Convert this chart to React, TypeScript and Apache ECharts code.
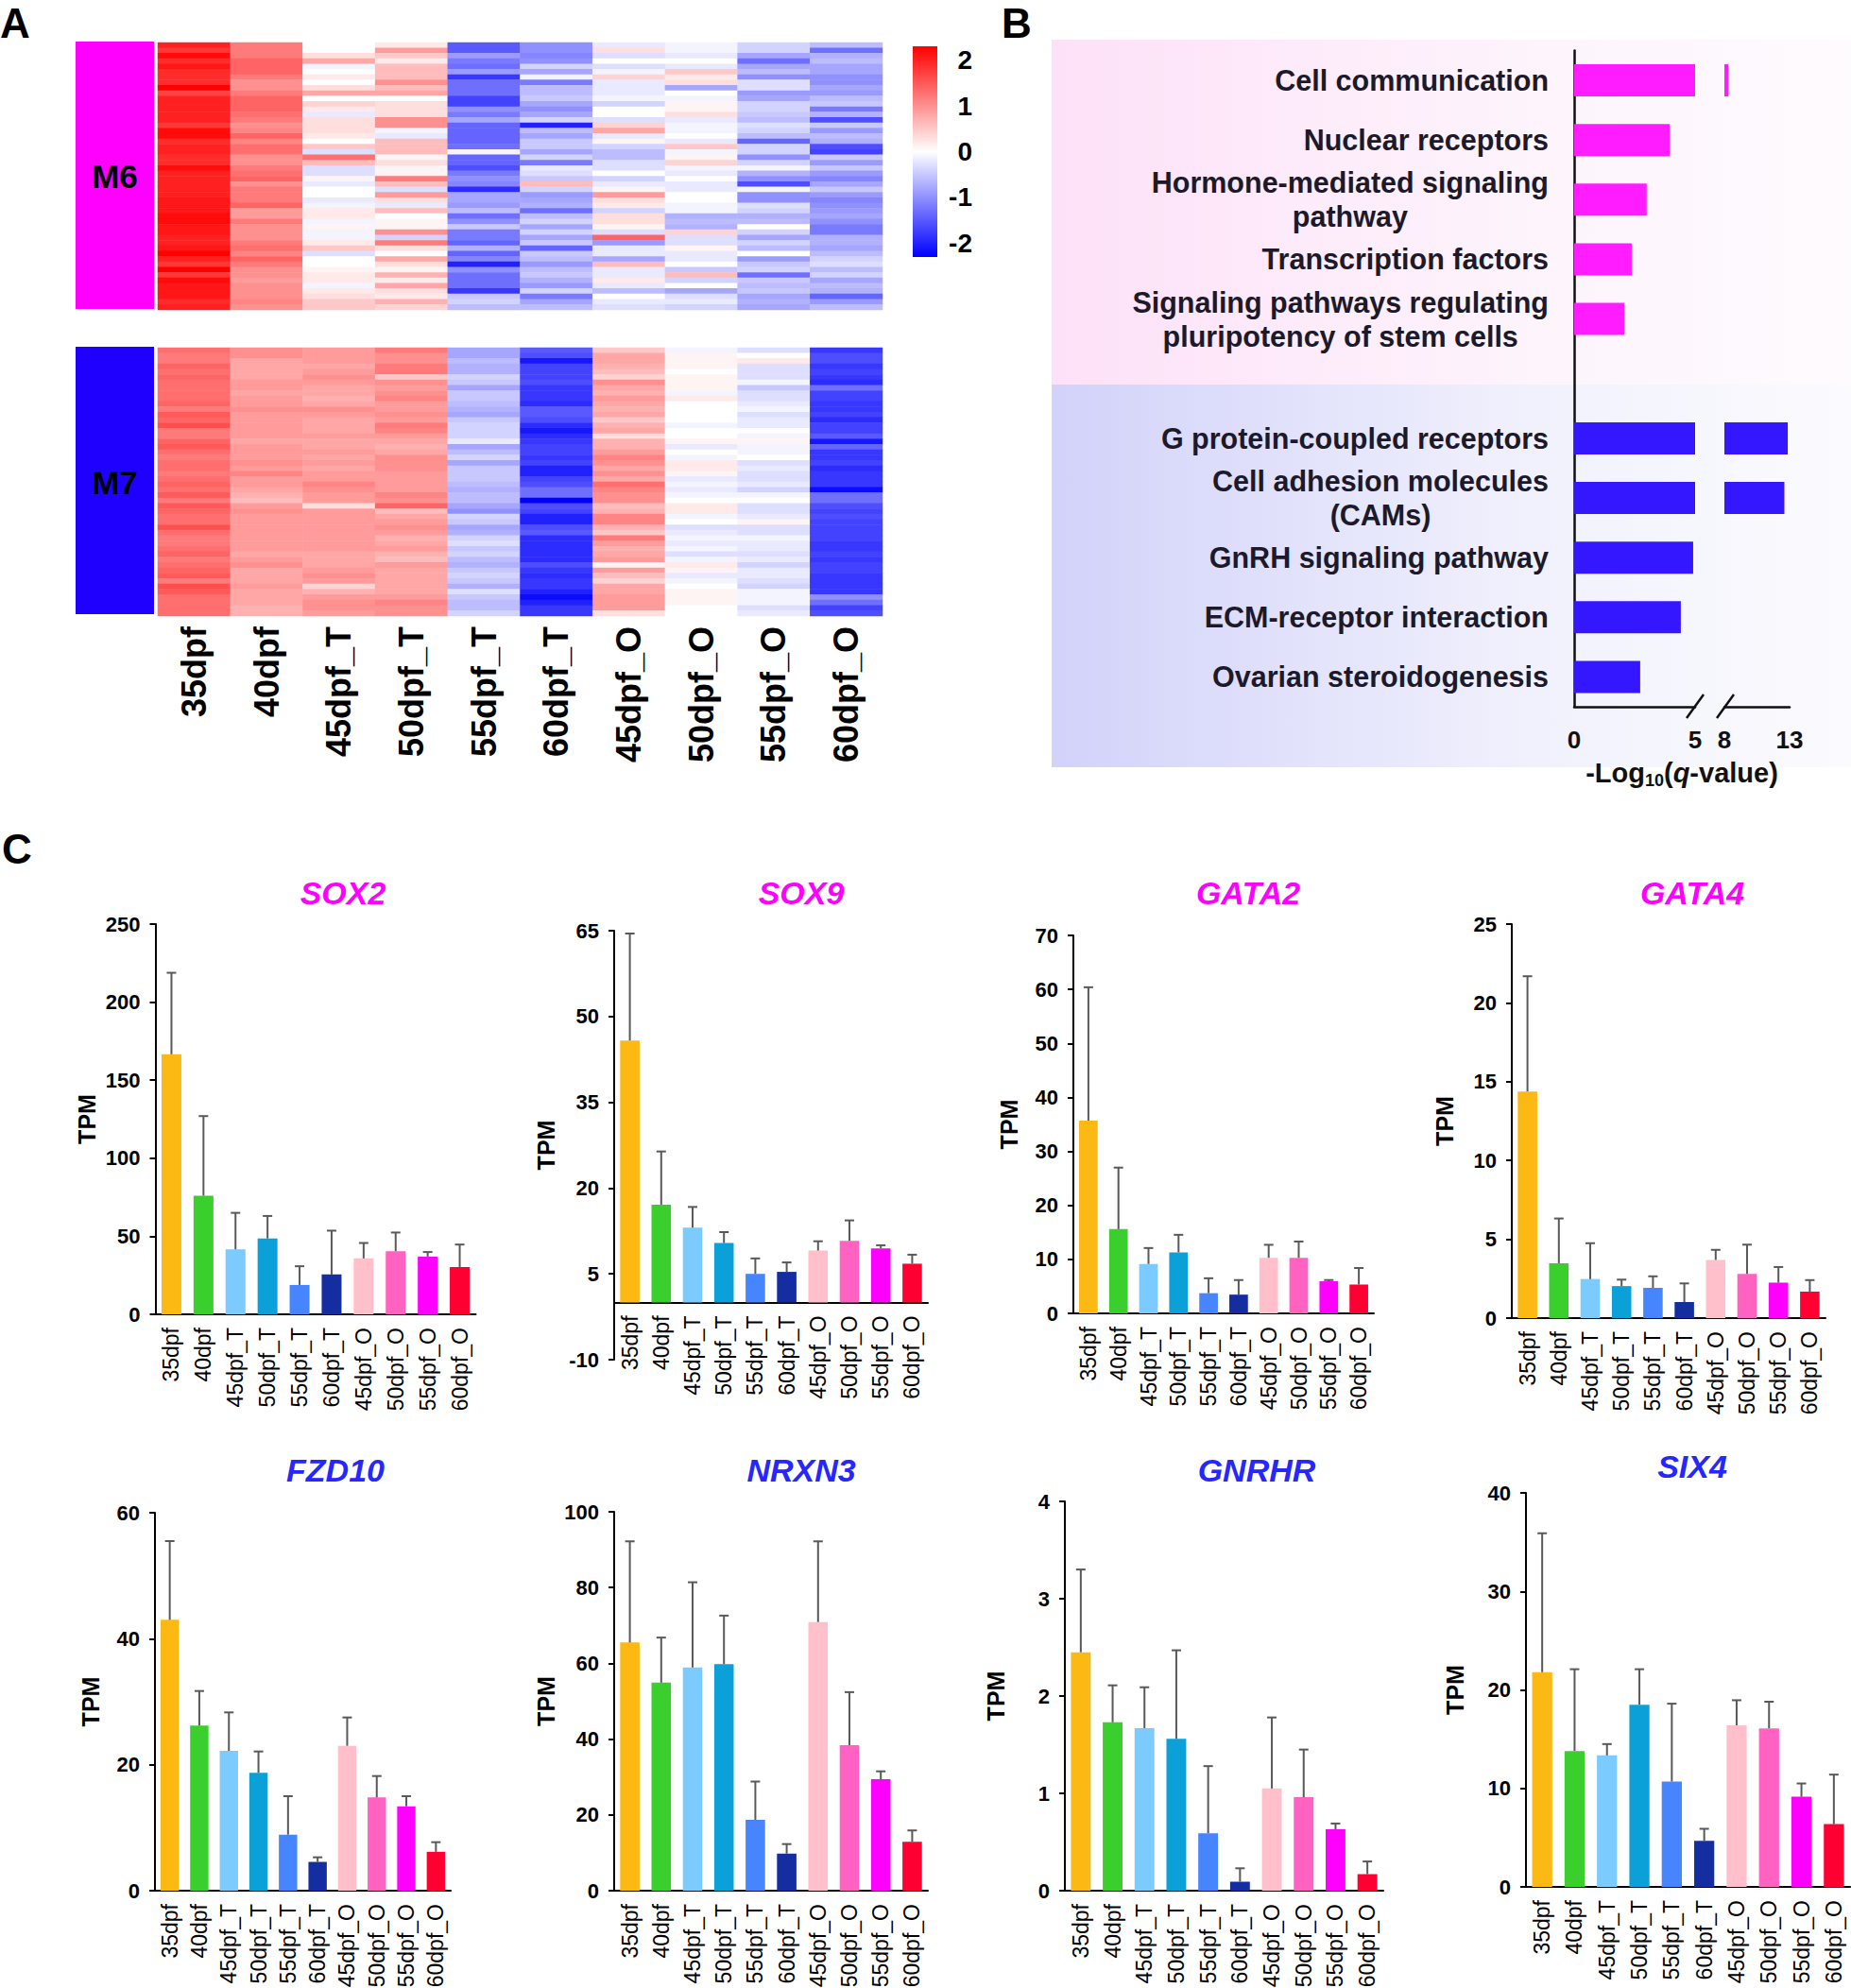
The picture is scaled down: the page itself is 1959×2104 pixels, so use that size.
import React, { useEffect, useRef } from 'react';
import * as echarts from 'echarts';

const W = 1959;
const H = 2104;
const FONT = "'Liberation Sans', Arial, Helvetica, sans-serif";

// ---------------- Panel A data ----------------
const heatCols = ['35dpf', '40dpf', '45dpf_T', '50dpf_T', '55dpf_T', '60dpf_T', '45dpf_O', '50dpf_O', '55dpf_O', '60dpf_O'];
const colorbarTicks = [2, 1, 0, -1, -2];
const heatMin = -2.3;
const heatMax = 2.3;

const m6Rows = [
  [2.0, 1.2, 0.0, 0.2, -1.5, -1.0, -0.2, -0.1, -0.4, -0.6],
  [1.8, 1.2, 0.0, 0.9, -1.5, -1.0, 0.3, -0.1, -0.4, -1.3],
  [2.2, 1.2, 0.3, 0.5, -0.9, -1.1, -0.3, -0.2, -0.8, -0.7],
  [1.9, 1.4, 0.8, 0.2, -1.2, -1.0, 0.0, 0.0, -1.3, -0.6],
  [2.1, 1.4, -0.1, 0.6, -1.3, -0.4, -0.3, -0.2, -0.8, -0.8],
  [1.9, 1.4, 0.0, 0.6, -0.9, -0.8, -0.1, 0.5, -0.6, -0.8],
  [1.9, 1.2, 0.2, 0.6, -1.8, -0.1, 0.4, 0.2, -1.0, -1.0],
  [1.9, 1.0, 0.0, 1.0, -1.3, -1.2, -0.2, 0.3, -0.3, -1.0],
  [2.3, 1.0, 0.3, 0.6, -1.3, -0.6, -0.2, -0.8, -0.3, -0.8],
  [1.7, 1.2, 0.8, 0.8, -1.3, -0.6, -0.2, 0.0, -0.9, -0.9],
  [2.0, 1.4, 0.0, 0.0, -1.7, -0.5, -0.1, -0.1, -0.8, -0.6],
  [2.0, 1.4, 0.4, 0.3, -1.7, -0.8, -0.4, 0.1, -0.4, -0.5],
  [2.0, 1.4, 0.2, 0.3, -1.0, -1.0, 0.0, 0.1, -0.4, -1.2],
  [2.0, 1.3, -0.2, 0.3, -1.2, -0.8, 0.0, 0.3, -0.5, -0.7],
  [2.0, 1.2, 0.3, 1.0, -0.8, -0.4, -0.3, -0.2, -0.6, -1.6],
  [1.8, 1.0, 0.3, 1.0, -1.4, -2.0, 0.4, -0.1, -0.3, -0.5],
  [2.2, 1.1, 0.3, -0.1, -1.4, -0.6, 0.8, -0.1, -0.4, -0.9],
  [2.2, 1.4, 0.2, -0.2, -1.4, -0.8, -0.2, 0.0, -0.6, -0.6],
  [1.9, 1.1, 0.0, 0.6, -1.4, -0.5, 0.1, -0.2, -1.4, -0.7],
  [2.0, 1.3, 0.5, 0.6, -1.3, -0.5, -0.4, 0.5, -0.4, -1.6],
  [2.0, 1.3, -0.3, 0.6, -0.1, -0.8, -0.6, -0.1, -0.4, -1.7],
  [1.9, 1.0, 1.3, 0.1, -1.4, -0.4, -0.6, 0.1, -1.0, -0.5],
  [1.9, 1.0, 0.6, 0.3, -1.4, -1.2, -0.3, 0.4, -0.4, -0.9],
  [2.2, 1.2, -0.3, 0.1, -1.6, -0.2, -0.3, -0.1, -0.1, -0.5],
  [2.0, 1.3, -0.3, 0.1, -1.2, -0.3, 0.0, -0.2, -0.7, -0.9],
  [2.0, 1.4, 0.1, 1.2, -1.0, -0.5, -0.4, 0.0, -1.0, -1.1],
  [2.0, 1.0, -0.2, 0.6, -1.1, 0.6, -0.2, -0.2, -1.6, -0.8],
  [2.0, 1.2, 0.0, -0.3, -1.9, -0.4, 0.1, -0.2, -0.1, -0.5],
  [2.0, 1.2, 0.0, 0.9, -0.8, -0.9, 0.9, 0.0, -1.0, -0.9],
  [2.1, 1.2, -0.2, 0.3, -0.8, -0.8, 0.3, 0.0, -1.0, -1.1],
  [2.1, 1.4, -0.1, -0.2, -0.9, -0.7, 0.2, -0.1, -0.3, -1.0],
  [2.1, 0.9, 0.2, 0.6, -0.6, -1.3, -0.4, -0.1, -0.4, -0.9],
  [2.2, 0.9, 0.2, 0.0, -1.3, -0.6, 0.3, -0.7, -0.7, -0.8],
  [2.2, 1.2, -0.1, 0.1, -1.0, -0.4, 0.3, -0.6, -0.6, -1.0],
  [2.1, 1.0, 0.1, 0.1, -0.5, -0.8, 0.1, -0.7, 0.0, -1.2],
  [2.1, 1.0, -0.1, 1.0, -1.2, -0.4, -0.3, 0.4, -0.4, -1.2],
  [2.0, 1.0, -0.1, -0.4, -1.2, -0.8, 1.4, -0.3, -0.8, -0.7],
  [2.0, 1.2, 0.2, 1.2, -1.4, -0.5, -0.9, -0.3, -0.4, -0.7],
  [2.1, 1.3, 0.5, 0.3, -0.7, -1.4, -0.2, 0.1, -0.6, -0.8],
  [2.3, 1.1, -0.3, 0.0, -1.4, -0.5, -0.2, -0.2, 0.0, -0.6],
  [2.0, 1.4, 0.0, 0.8, -1.1, -0.6, -0.8, -0.2, -0.9, -0.4],
  [1.8, 1.2, 0.0, 0.3, -2.0, -0.9, 0.6, 0.0, -0.5, -0.3],
  [2.4, 1.0, 0.1, 0.1, -1.0, -0.6, -0.2, -0.5, -0.4, -0.6],
  [1.8, 1.0, 0.2, 0.7, -1.3, -0.5, -0.2, 0.6, -1.3, -0.4],
  [2.2, 0.9, 0.2, 0.2, -1.3, -0.7, 0.2, -0.4, -0.5, -0.8],
  [2.1, 1.0, -0.1, 0.8, -1.3, -0.9, -0.2, 0.0, -0.6, -0.6],
  [2.1, 1.0, 0.2, 0.3, -1.8, -0.4, -0.6, -0.8, -0.5, -0.7],
  [2.1, 1.0, 0.3, 0.2, -0.5, -1.2, 0.0, -0.3, -0.8, -1.4],
  [1.9, 1.1, 0.5, 0.7, -0.4, -0.8, -0.2, -0.2, -0.7, -0.9],
  [2.0, 1.0, 0.5, 0.4, -0.6, -0.6, -0.3, -0.4, -0.8, -0.6],
];

const m7Rows = [
  [1.3, 1.0, 0.9, 1.2, -0.8, -1.5, 0.5, -0.1, -0.3, -1.8],
  [1.2, 1.0, 0.9, 1.0, -0.8, -1.6, 0.8, 0.1, 0.0, -1.6],
  [1.2, 0.8, 0.9, 1.0, -0.6, -2.1, 0.8, 0.1, 0.2, -1.6],
  [1.4, 0.8, 0.8, 1.2, -0.7, -1.7, 0.7, 0.1, -0.3, -1.8],
  [1.3, 0.8, 0.9, 1.2, -0.7, -1.7, 0.6, 0.0, -0.3, -1.7],
  [1.4, 0.8, 1.0, 0.5, -0.4, -1.7, 0.4, 0.1, -0.3, -1.8],
  [1.3, 0.9, 0.9, 1.0, -0.5, -1.6, 1.0, 0.1, -0.1, -1.9],
  [1.3, 0.9, 0.8, 0.9, -0.8, -1.8, 0.8, 0.1, -0.5, -1.3],
  [1.3, 0.8, 0.8, 1.0, -0.5, -1.8, 0.7, -0.1, -0.3, -1.7],
  [1.3, 0.9, 0.7, 1.1, -0.5, -1.8, 0.9, 0.2, -0.3, -1.7],
  [1.4, 0.9, 0.8, 0.9, -0.6, -1.9, 0.8, 0.0, -0.2, -1.8],
  [1.2, 1.0, 1.0, 0.9, -0.7, -1.5, 0.7, 0.0, -0.1, -1.8],
  [1.5, 0.9, 0.9, 1.0, -0.8, -1.5, 0.8, 0.0, -0.3, -1.7],
  [1.4, 0.9, 0.8, 0.9, -0.5, -1.6, 0.5, 0.0, -0.2, -1.9],
  [1.6, 0.9, 0.8, 1.2, -0.4, -1.9, 0.7, -0.1, -0.2, -1.7],
  [1.2, 0.9, 0.8, 1.1, -0.4, -2.1, 0.8, 0.0, 0.0, -1.7],
  [1.2, 0.9, 0.9, 0.9, -0.4, -1.9, 0.3, 0.0, -0.1, -1.5],
  [1.4, 0.8, 0.8, 0.8, -0.2, -1.8, 0.7, 0.1, 0.1, -2.1],
  [1.5, 0.9, 0.8, 0.7, -0.8, -1.7, 0.7, -0.2, -0.1, -1.4],
  [1.3, 0.9, 0.9, 0.8, -0.6, -1.7, 0.9, 0.0, -0.1, -1.8],
  [1.2, 0.9, 0.8, 1.0, -0.4, -1.8, 1.1, -0.1, 0.0, -1.8],
  [1.3, 1.0, 0.9, 1.0, -0.8, -1.7, 1.0, 0.2, -0.3, -1.7],
  [1.3, 0.9, 0.8, 1.0, -0.5, -2.0, 0.8, 0.2, -0.2, -1.9],
  [1.2, 1.1, 0.9, 0.9, -0.5, -2.0, 1.0, 0.1, -0.3, -1.8],
  [1.3, 0.9, 0.9, 0.9, -0.5, -1.7, 0.8, -0.2, -0.3, -1.8],
  [1.4, 0.9, 1.1, 0.9, -0.6, -1.6, 1.3, -0.1, -0.2, -1.8],
  [1.3, 0.8, 1.0, 0.9, -0.7, -1.3, 1.1, -0.2, -0.4, -2.2],
  [1.5, 0.7, 0.9, 1.1, -0.6, -1.3, 1.0, -0.1, -0.1, -1.3],
  [1.2, 0.6, 0.9, 1.0, -0.6, -2.3, 1.0, 0.0, 0.0, -1.3],
  [1.5, 0.9, 0.3, 1.4, -0.8, -1.6, 0.6, 0.2, -0.3, -1.6],
  [1.4, 1.0, 0.9, 0.6, -1.0, -1.7, 0.7, 0.2, -0.3, -1.7],
  [1.3, 0.9, 0.9, 0.8, -0.4, -2.0, 1.1, -0.1, -0.2, -1.6],
  [1.3, 0.9, 0.9, 0.9, -0.5, -2.0, 1.1, 0.0, 0.1, -1.7],
  [1.6, 0.9, 0.9, 1.0, -0.8, -1.6, 0.7, -0.3, -0.3, -1.7],
  [1.3, 0.9, 0.9, 0.9, -0.7, -1.5, 0.5, -0.2, -0.3, -1.7],
  [1.2, 0.9, 0.9, 0.7, -0.4, -1.9, 1.2, -0.1, -0.1, -1.7],
  [1.2, 0.9, 0.9, 0.8, -0.3, -1.9, 0.9, -0.2, -0.2, -1.8],
  [1.3, 0.9, 0.9, 0.9, -0.5, -1.9, 0.7, -0.1, -0.2, -1.8],
  [1.4, 0.8, 0.8, 0.7, -0.4, -1.9, 0.8, -0.3, -0.3, -1.7],
  [1.2, 0.9, 0.8, 0.6, -0.6, -1.9, 0.9, -0.1, -0.2, -1.8],
  [1.3, 1.0, 0.8, 0.9, -0.7, -1.6, 0.1, 0.2, -0.4, -1.7],
  [1.4, 0.8, 0.9, 0.8, -0.5, -1.8, 0.9, 0.1, -0.2, -1.7],
  [1.5, 0.8, 1.0, 0.8, -0.4, -1.9, 0.6, -0.2, -0.2, -1.8],
  [1.2, 0.8, 0.9, 0.8, -0.5, -1.8, 0.4, -0.1, -0.3, -1.8],
  [1.6, 0.9, 0.4, 0.8, -0.7, -1.8, 0.8, 0.0, -0.4, -1.8],
  [1.5, 0.8, 0.7, 0.8, -0.3, -2.0, 0.8, 0.1, -0.1, -1.8],
  [1.3, 0.8, 0.9, 0.9, -0.5, -2.2, 0.9, 0.1, -0.1, -1.0],
  [1.3, 0.8, 1.0, 1.1, -0.6, -2.0, 0.9, 0.1, -0.1, -1.3],
  [1.3, 0.7, 1.0, 1.0, -0.6, -1.8, 0.9, 0.0, -0.3, -1.7],
  [1.3, 0.7, 0.9, 1.0, -0.4, -1.8, 0.3, 0.0, -0.2, -1.6],
];

// ---------------- Panel B data ----------------
const goTerms = [
  'Cell communication',
  'Nuclear receptors',
  'Hormone-mediated signaling\npathway',
  'Transcription factors',
  'Signaling pathways regulating\npluripotency of stem cells',
  ' ',
  'G protein-coupled receptors',
  'Cell adhesion molecules\n(CAMs)',
  'GnRH signaling pathway',
  'ECM-receptor interaction',
  'Ovarian steroidogenesis',
];
const goValues = [8.3, 3.95, 3.0, 2.38, 2.07, null, 12.86, 12.6, 4.92, 4.41, 2.73];
const goColors = ['#ff1cff', '#ff1cff', '#ff1cff', '#ff1cff', '#ff1cff', '#ffffff', '#3517ff', '#3517ff', '#3517ff', '#3517ff', '#3517ff'];
const goLeftTicks = [0, 5];
const goRightTicks = [8, 13];

// ---------------- Panel C data ----------------
const stages = ['35dpf', '40dpf', '45dpf_T', '50dpf_T', '55dpf_T', '60dpf_T', '45dpf_O', '50dpf_O', '55dpf_O', '60dpf_O'];
const stageColors = ['#fdb913', '#3bcf2d', '#7ccbff', '#0ba0d8', '#4785ff', '#142ea1', '#ffc0cb', '#ff62c0', '#ff00ff', '#ff0033'];

const sox2Mean = [166.6, 76, 41.6, 48.6, 18.8, 25.5, 35.8, 40.4, 37.0, 30.3];
const sox2Upper = [218.8, 127, 65, 63, 30.8, 53.6, 45.7, 52.4, 39.9, 44.7];
const sox2Ticks = [0, 50, 100, 150, 200, 250];

const sox9Mean = [45.8, 17.1, 13.1, 10.4, 5.0, 5.35, 9.07, 10.76, 9.46, 6.78];
const sox9Upper = [64.5, 26.4, 16.7, 12.3, 7.7, 7.0, 10.7, 14.35, 10.0, 8.35];
const sox9Ticks = [-10, 5, 20, 35, 50, 65];

const gata2Mean = [35.7, 15.6, 9.15, 11.3, 3.74, 3.47, 10.3, 10.3, 5.96, 5.34];
const gata2Upper = [60.4, 27.0, 12.1, 14.55, 6.5, 6.17, 12.7, 13.3, 6.17, 8.4];
const gata2Ticks = [0, 10, 20, 30, 40, 50, 60, 70];

const gata4Mean = [14.38, 3.48, 2.48, 2.03, 1.92, 1.02, 3.69, 2.81, 2.25, 1.68];
const gata4Upper = [21.69, 6.32, 4.75, 2.44, 2.65, 2.2, 4.33, 4.66, 3.24, 2.41];
const gata4Ticks = [0, 5, 10, 15, 20, 25];

const fzd10Mean = [43.0, 26.2, 22.2, 18.7, 8.9, 4.57, 23.0, 14.8, 13.4, 6.17];
const fzd10Upper = [55.5, 31.7, 28.3, 22.1, 15.0, 5.3, 27.5, 18.2, 15.0, 7.7];
const fzd10Ticks = [0, 20, 40, 60];

const nrxn3Mean = [65.5, 54.9, 58.9, 59.8, 18.7, 9.78, 70.9, 38.4, 29.4, 12.9];
const nrxn3Upper = [92.2, 66.8, 81.4, 72.6, 28.8, 12.3, 92.2, 52.4, 31.5, 15.9];
const nrxn3Ticks = [0, 20, 40, 60, 80, 100];

const gnrhrMean = [2.45, 1.73, 1.67, 1.56, 0.59, 0.092, 1.05, 0.96, 0.63, 0.17];
const gnrhrUpper = [3.30, 2.11, 2.09, 2.47, 1.28, 0.23, 1.78, 1.45, 0.69, 0.30];
const gnrhrTicks = [0, 1, 2, 3, 4];

const six4Mean = [21.8, 13.8, 13.35, 18.5, 10.7, 4.68, 16.4, 16.1, 9.15, 6.37];
const six4Upper = [35.9, 22.1, 14.5, 22.1, 18.6, 5.9, 18.95, 18.8, 10.5, 11.4];
const six4Ticks = [0, 10, 20, 30, 40];

const genes = [
  { name: 'SOX2', mean: sox2Mean, upper: sox2Upper, ticks: sox2Ticks, color: '#ff00ff' },
  { name: 'SOX9', mean: sox9Mean, upper: sox9Upper, ticks: sox9Ticks, color: '#ff00ff' },
  { name: 'GATA2', mean: gata2Mean, upper: gata2Upper, ticks: gata2Ticks, color: '#ff00ff' },
  { name: 'GATA4', mean: gata4Mean, upper: gata4Upper, ticks: gata4Ticks, color: '#ff00ff' },
  { name: 'FZD10', mean: fzd10Mean, upper: fzd10Upper, ticks: fzd10Ticks, color: '#2626ff' },
  { name: 'NRXN3', mean: nrxn3Mean, upper: nrxn3Upper, ticks: nrxn3Ticks, color: '#2626ff' },
  { name: 'GNRHR', mean: gnrhrMean, upper: gnrhrUpper, ticks: gnrhrTicks, color: '#2626ff' },
  { name: 'SIX4', mean: six4Mean, upper: six4Upper, ticks: six4Ticks, color: '#2626ff' },
];

// layout (positions only)
const geneLayout = [
  { left: 164.5, top: 978, width: 339, height: 413, gap: 60, tx: 363, ty: 945 },
  { left: 650, top: 985, width: 332, height: 454, gap: 60, tx: 848, ty: 945 },
  { left: 1136, top: 990, width: 318, height: 400, gap: 56, tx: 1321, ty: 945 },
  { left: 1600, top: 978, width: 332, height: 417, gap: 59, tx: 1791, ty: 945 },
  { left: 164, top: 1601, width: 313, height: 400, gap: 56, tx: 355, ty: 1556 },
  { left: 650, top: 1600, width: 332, height: 401, gap: 60, tx: 848, ty: 1556 },
  { left: 1127, top: 1589, width: 337, height: 412, gap: 61, tx: 1330, ty: 1556 },
  { left: 1615, top: 1580, width: 343, height: 417, gap: 63, tx: 1791, ty: 1552 },
];

const GO_LABEL_FONT = `bold 30.5px ${FONT}`;
const GO_LABEL_RIGHT = 1639;

function measure(text: string, font: string): number {
  const ctx = document.createElement('canvas').getContext('2d');
  if (!ctx) return text.length * 15;
  ctx.font = font;
  return ctx.measureText(text).width;
}

function buildOption(): any {
  const grid: any[] = [];
  const xAxis: any[] = [];
  const yAxis: any[] = [];
  const series: any[] = [];

  // ---- Panel A heatmaps ----
  const heatDefs = [
    { rows: m6Rows, top: 45, height: 283, labels: false },
    { rows: m7Rows, top: 368, height: 284, labels: true },
  ];
  heatDefs.forEach((d, i) => {
    grid.push({ left: 167, top: d.top, width: 767, height: d.height, outerBoundsMode: 'none' });
    xAxis.push({
      gridIndex: i,
      type: 'category',
      data: heatCols,
      axisLine: { show: false },
      axisTick: { show: false },
      splitLine: { show: false },
      axisLabel: d.labels
        ? { show: true, rotate: 90, interval: 0, margin: 11, fontSize: 36, fontWeight: 'bold', color: '#000', fontFamily: FONT }
        : { show: false },
    });
    yAxis.push({
      gridIndex: i,
      type: 'category',
      inverse: true,
      data: d.rows.map((_, r) => 'g' + r),
      show: false,
    });
    series.push({
      type: 'heatmap',
      xAxisIndex: i,
      yAxisIndex: i,
      data: d.rows.flatMap((row, r) => row.map((v, c) => [c, r, v])),
      itemStyle: { borderWidth: 0 },
      emphasis: { disabled: true },
      silent: true,
    });
  });

  // ---- Panel B ----
  const bTop = 53.5;
  const bHeight = 694.5;
  grid.push({ left: 1666, top: bTop, width: 128, height: bHeight, outerBoundsMode: 'none' }); // 2
  grid.push({ left: 1825, top: bTop, width: 69, height: bHeight, outerBoundsMode: 'none' }); // 3
  const bLabel = { fontSize: 26, fontWeight: 'bold', color: '#111', fontFamily: FONT, margin: 22 };
  xAxis.push({
    gridIndex: 2, type: 'value', min: goLeftTicks[0], max: goLeftTicks[1],
    axisLine: { show: true, onZero: false, lineStyle: { color: '#111', width: 2.5 } },
    axisTick: { show: false },
    splitLine: { show: false },
    axisLabel: { ...bLabel, customValues: goLeftTicks, showMinLabel: true, showMaxLabel: true },
  });
  xAxis.push({
    gridIndex: 3, type: 'value', min: goRightTicks[0], max: goRightTicks[1],
    axisLine: { show: true, onZero: false, lineStyle: { color: '#111', width: 2.5 } },
    axisTick: { show: false },
    splitLine: { show: false },
    axisLabel: { ...bLabel, customValues: goRightTicks, showMinLabel: true, showMaxLabel: true },
  });
  yAxis.push({
    gridIndex: 2, type: 'category', inverse: true, data: goTerms,
    axisLine: { show: true, onZero: false, lineStyle: { color: '#111', width: 2.5 } },
    axisTick: { show: false },
    axisLabel: { show: false },
    splitLine: { show: false },
  });
  yAxis.push({ gridIndex: 3, type: 'category', inverse: true, data: goTerms, show: false });
  [2, 3].forEach((gi) => {
    series.push({
      type: 'bar',
      xAxisIndex: gi,
      yAxisIndex: gi,
      barWidth: 34,
      clip: true,
      silent: true,
      data: goValues.map((v, i) => ({ value: v, itemStyle: { color: goColors[i] } })),
    });
  });

  // ---- Panel C ----
  genes.forEach((g, k) => {
    const L = geneLayout[k];
    const gi = 4 + k;
    const yMin = g.ticks[0];
    const yMax = g.ticks[g.ticks.length - 1];
    // place the category axis at value 0 (lifts it when the value axis starts below zero)
    const zeroOffset = -L.height * (Math.max(0, 0 - yMin) / (yMax - yMin));
    grid.push({ left: L.left, top: L.top, width: L.width, height: L.height, outerBoundsMode: 'none' });
    xAxis.push({
      gridIndex: gi,
      type: 'category',
      data: stages,
      position: 'bottom',
      offset: zeroOffset,
      axisLine: { show: true, onZero: false, lineStyle: { color: '#000', width: 2 } },
      axisTick: { show: false },
      splitLine: { show: false },
      axisLabel: { rotate: 90, interval: 0, margin: 14, fontSize: 23, color: '#000', fontFamily: FONT },
    });
    yAxis.push({
      gridIndex: gi,
      type: 'value',
      min: yMin,
      max: yMax,
      axisLine: { show: true, onZero: false, lineStyle: { color: '#000', width: 2 } },
      axisTick: { show: true, length: 6, inside: false, customValues: g.ticks, lineStyle: { color: '#000', width: 2 } },
      splitLine: { show: false },
      axisLabel: { customValues: g.ticks, fontSize: 22, fontWeight: 'bold', color: '#000', margin: 16, fontFamily: FONT },
      name: 'TPM',
      nameLocation: 'middle',
      nameRotate: 90,
      nameGap: L.gap,
      nameMoveOverlap: false,
      nameTextStyle: { fontSize: 25, fontWeight: 'bold', color: '#000', fontFamily: FONT },
    });
    series.push({
      type: 'bar',
      xAxisIndex: gi,
      yAxisIndex: gi,
      barWidth: '62%',
      silent: true,
      data: g.mean.map((v, i) => ({ value: v, itemStyle: { color: stageColors[i] } })),
    });
    series.push({
      type: 'custom',
      xAxisIndex: gi,
      yAxisIndex: gi,
      silent: true,
      z: 5,
      encode: { x: 0, y: [1, 2] },
      data: g.mean.map((m, i) => [i, m, g.upper[i]]),
      renderItem: (params: any, api: any) => {
        const p0 = api.coord([api.value(0), api.value(1)]);
        const p1 = api.coord([api.value(0), api.value(2)]);
        const st = { stroke: '#595959', lineWidth: 2 };
        return {
          type: 'group',
          children: [
            { type: 'line', shape: { x1: p0[0], y1: p0[1], x2: p1[0], y2: p1[1] }, style: st },
            { type: 'line', shape: { x1: p1[0] - 5, y1: p1[1], x2: p1[0] + 5, y2: p1[1] }, style: st },
          ],
        };
      },
    });
  });

  return {
    animation: false,
    backgroundColor: 'transparent',
    textStyle: { fontFamily: FONT },
    visualMap: {
      show: false,
      type: 'continuous',
      min: heatMin,
      max: heatMax,
      seriesIndex: [0, 1],
      inRange: { color: ['#0000ff', '#ffffff', '#ff0000'] },
    },
    grid,
    xAxis,
    yAxis,
    series,
  };
}

function txt(x: number, y: number, text: string, font: string, fill: string, align = 'left', vAlign = 'middle', extra: any = {}): any {
  return {
    type: 'text',
    x,
    y,
    z: 100,
    silent: true,
    style: {
      text,
      font,
      fill,
      align,
      verticalAlign: vAlign,
      textAlign: align,
      textVerticalAlign: vAlign,
      ...extra,
    },
  };
}

function buildGraphics(chart: any): any[] {
  const els: any[] = [];

  // panel letters
  els.push(txt(0, 2, 'A', `bold 44px ${FONT}`, '#000', 'left', 'top'));
  els.push(txt(1060, 2, 'B', `bold 44px ${FONT}`, '#000', 'left', 'top'));
  els.push(txt(2, 876, 'C', `bold 44px ${FONT}`, '#000', 'left', 'top'));

  // module boxes
  els.push({ type: 'rect', shape: { x: 80, y: 44, width: 83, height: 283 }, style: { fill: '#ff00ff' }, silent: true });
  els.push({ type: 'rect', shape: { x: 80, y: 367, width: 83, height: 283 }, style: { fill: '#1f00ff' }, silent: true });
  els.push(txt(121.5, 186, 'M6', `bold 35px ${FONT}`, '#000', 'center'));
  els.push(txt(121.5, 510, 'M7', `bold 35px ${FONT}`, '#000', 'center'));

  // colorbar
  const cbX = 966, cbY = 49, cbW = 26, cbH = 223;
  els.push({
    type: 'rect',
    shape: { x: cbX, y: cbY, width: cbW, height: cbH },
    silent: true,
    style: {
      fill: new echarts.graphic.LinearGradient(0, 0, 0, 1, [
        { offset: 0, color: '#ff0000' },
        { offset: 0.5, color: '#ffffff' },
        { offset: 1, color: '#0000ff' },
      ]),
    },
  });
  colorbarTicks.forEach((t) => {
    const y = cbY + ((heatMax - t) / (heatMax - heatMin)) * cbH;
    els.push(txt(1029, y, String(t), `bold 28px ${FONT}`, '#000', 'right'));
  });

  // Panel B backgrounds
  els.push({
    type: 'rect', z: -5, silent: true,
    shape: { x: 1113, y: 42, width: 846, height: 365 },
    style: {
      fill: new echarts.graphic.LinearGradient(0, 0, 1, 0, [
        { offset: 0, color: '#fde1f8' },
        { offset: 0.6, color: '#fdf4fc' },
        { offset: 1, color: '#fefbfe' },
      ]),
    },
  });
  els.push({
    type: 'rect', z: -5, silent: true,
    shape: { x: 1113, y: 407, width: 846, height: 405 },
    style: {
      fill: new echarts.graphic.LinearGradient(0, 0, 1, 0, [
        { offset: 0, color: '#d2d2fa' },
        { offset: 0.6, color: '#f1f1fd' },
        { offset: 1, color: '#fbfbfe' },
      ]),
    },
  });

  // GO term labels
  goTerms.forEach((term) => {
    if (!term.trim()) return;
    const y = chart.convertToPixel({ yAxisIndex: 2 }, term);
    const lines = term.split('\n');
    const w = Math.max(...lines.map((l) => measure(l, GO_LABEL_FONT)));
    els.push(txt(GO_LABEL_RIGHT - w / 2, y, term, GO_LABEL_FONT, '#1c1a2a', 'center', 'middle', { lineHeight: 36 }));
  });

  // axis break marks
  const brk = { stroke: '#111', lineWidth: 2.5 };
  els.push({ type: 'line', silent: true, z: 50, shape: { x1: 1785, y1: 760, x2: 1803, y2: 735 }, style: brk });
  els.push({ type: 'line', silent: true, z: 50, shape: { x1: 1817, y1: 760, x2: 1835, y2: 735 }, style: brk });

  // axis title
  els.push({
    type: 'text', x: 1780, y: 818, z: 100, silent: true,
    style: {
      text: '{n|-Log}{s|10}{n|(}{q|q}{n|-value)}',
      align: 'center', verticalAlign: 'middle', textAlign: 'center', textVerticalAlign: 'middle',
      fill: '#111',
      rich: {
        n: { fontSize: 29, fontWeight: 'bold', fontFamily: FONT, fill: '#111', lineHeight: 34 },
        q: { fontSize: 29, fontWeight: 'bold', fontStyle: 'italic', fontFamily: FONT, fill: '#111', lineHeight: 34 },
        s: { fontSize: 18, fontWeight: 'bold', fontFamily: FONT, fill: '#111', lineHeight: 34, verticalAlign: 'bottom', padding: [14, 0, 0, 0] },
      },
    },
  });

  // Panel C titles
  genes.forEach((g, k) => {
    const L = geneLayout[k];
    els.push(txt(L.tx, L.ty, g.name, `italic bold 34px ${FONT}`, g.color, 'center'));
  });

  return els;
}

export default function App() {
  const ref = useRef<HTMLDivElement>(null);
  useEffect(() => {
    if (!ref.current) return;
    const chart = echarts.init(ref.current, null, { renderer: 'svg', width: W, height: H });
    chart.setOption(buildOption());
    chart.setOption({ graphic: { elements: buildGraphics(chart) } });
    return () => chart.dispose();
  }, []);
  return (
    <div
      ref={ref}
      style={{ position: 'absolute', left: 0, top: 0, width: W, height: H, background: '#ffffff' }}
    />
  );
}
